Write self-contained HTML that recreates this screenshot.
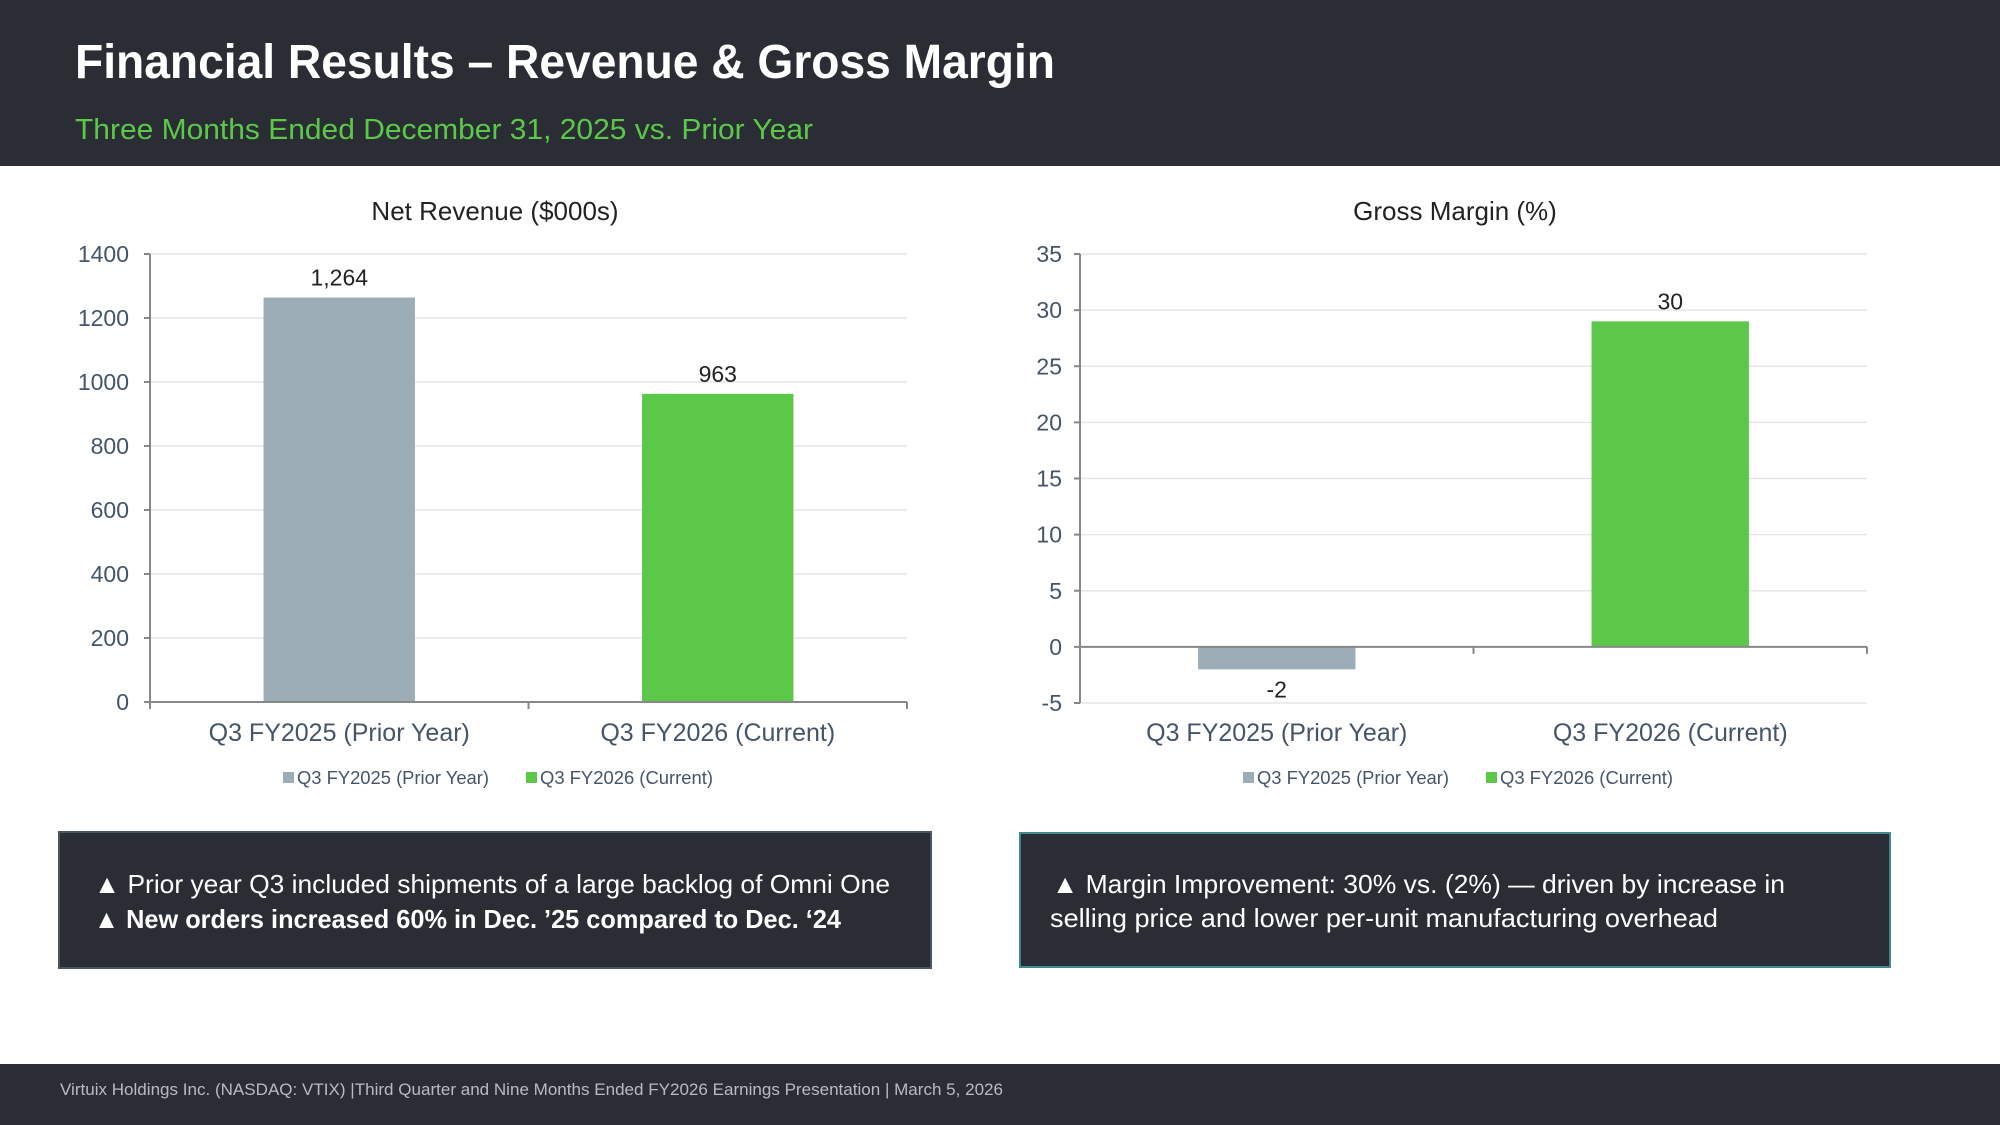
<!DOCTYPE html>
<html><head><meta charset="utf-8"><style>
html,body{margin:0;padding:0;background:#fff;}
svg{display:block;}
text{font-family:"Liberation Sans",sans-serif;}
.cal{font-family:"Liberation Sans Narrow","Liberation Sans",sans-serif;}
</style></head><body>
<svg id="slide" width="2000" height="1125" viewBox="0 0 2000 1125" xmlns="http://www.w3.org/2000/svg">
<rect x="0" y="0" width="2000" height="166" fill="#2a2d33"/>
<text x="75" y="78" font-size="48" font-weight="bold" fill="#fff" textLength="980" lengthAdjust="spacingAndGlyphs" class="cal">Financial Results – Revenue &amp; Gross Margin</text>
<text x="75" y="139" font-size="29" fill="#5cc84a" textLength="738" lengthAdjust="spacingAndGlyphs" class="cal">Three Months Ended December 31, 2025 vs. Prior Year</text>

<g id="rev"></g>
<g id="gm"></g>

<rect x="59" y="832" width="872" height="136" fill="#2a2d33" stroke="#4a5560" stroke-width="2"/>
<text x="94" y="893" font-size="26" fill="#fff" textLength="796" lengthAdjust="spacingAndGlyphs" class="cal">▲ Prior year Q3 included shipments of a large backlog of Omni One</text>
<text x="94" y="928" font-size="26" font-weight="bold" fill="#fff" textLength="747" lengthAdjust="spacingAndGlyphs" class="cal">▲ New orders increased 60% in Dec. ’25 compared to Dec. ‘24</text>

<rect x="1020" y="833" width="870" height="134" fill="#2a2d33" stroke="#3f8a8f" stroke-width="2"/>
<text x="1052" y="893" font-size="26" fill="#fff" textLength="733" lengthAdjust="spacingAndGlyphs" class="cal">▲ Margin Improvement: 30% vs. (2%) — driven by increase in</text>
<text x="1050" y="927" font-size="26" fill="#fff" textLength="668" lengthAdjust="spacingAndGlyphs" class="cal">selling price and lower per-unit manufacturing overhead</text>

<rect x="0" y="1064" width="2000" height="61" fill="#2a2d33"/>
<text x="60" y="1095" font-size="17" fill="#b8bcc2" textLength="943" lengthAdjust="spacingAndGlyphs" class="cal">Virtuix Holdings Inc. (NASDAQ: VTIX) |Third Quarter and  Nine Months Ended FY2026 Earnings Presentation | March 5, 2026</text>
</svg>
<script>
const categories = ["Q3 FY2025 (Prior Year)", "Q3 FY2026 (Current)"];
const revenueValues = [1264, 963];
const revenueLabels = ["1,264", "963"];
const revenueTicks = [0, 200, 400, 600, 800, 1000, 1200, 1400];
const marginValues = [-2, 29];
const marginLabels = ["-2", "30"];
const marginTicks = [-5, 0, 5, 10, 15, 20, 25, 30, 35];
const seriesColors = ["#9dadb8", "#5cc84a"];

const NS = "http://www.w3.org/2000/svg";
function mk(parent, tag, attrs, txt) {
  const e = document.createElementNS(NS, tag);
  for (const k in attrs) e.setAttribute(k, attrs[k]);
  if (txt !== undefined) e.textContent = txt;
  parent.appendChild(e);
  return e;
}

function drawChart(g, cfg) {
  const {x0, x1, yTop, yBot, min, max, ticks, values, labels, title, titleX, labelRight, prefix} = cfg;
  const y = v => yBot - (v - min) / (max - min) * (yBot - yTop);
  const band = (x1 - x0) / categories.length;
  const cx = i => x0 + band * (i + 0.5);
  const bw = band * 0.4;
  let t = mk(g, "text", {x: titleX, y: 220, "font-size": 26, fill: "#222", "text-anchor": "middle"}, title);
  
  
  ticks.forEach(v => {
    if (v !== 0 || min === 0) {
      const gl = mk(g, "line", {x1: x0, x2: x1, y1: y(v), y2: y(v), stroke: "#e3e6ea", "stroke-width": 1.5});
      
      
    }
    const tk = mk(g, "line", {x1: x0 - 6, x2: x0, y1: y(v), y2: y(v), stroke: "#888", "stroke-width": 2});
    
    
    const tl = mk(g, "text", {x: labelRight, y: y(v) + 8, "font-size": 23, fill: "#44546a", "text-anchor": "end"}, String(v));
    
    
  });
  values.forEach((v, i) => {
    const top = Math.min(y(v), y(0)), h = Math.abs(y(v) - y(0));
    const b = mk(g, "rect", {x: cx(i) - bw / 2, y: top, width: bw, height: h, fill: seriesColors[i]});
    
    
    const ly = v >= 0 ? y(v) - 12 : y(v) + 28;
    const l = mk(g, "text", {x: cx(i), y: ly, "font-size": 23, fill: "#222", "text-anchor": "middle"}, labels[i]);
    
    
    const c = mk(g, "text", {x: cx(i), y: 741, "font-size": 25, fill: "#44546a", "text-anchor": "middle"}, categories[i]);
    
    
  });
  const ya = mk(g, "line", {x1: x0, x2: x0, y1: yTop, y2: yBot, stroke: "#888", "stroke-width": 2});
  
  
  const xa = mk(g, "line", {x1: x0, x2: x1, y1: y(0), y2: y(0), stroke: "#888", "stroke-width": 2});
  
  
  for (let i = 0; i <= categories.length; i++) {
    const xt = mk(g, "line", {x1: x0 + band * i, x2: x0 + band * i, y1: y(0), y2: y(0) + 7, stroke: "#888", "stroke-width": 2});
    
    
  }
  // legend
  const lx = [cfg.legendX, cfg.legendX + 243];
  categories.forEach((c, i) => {
    const sw = mk(g, "rect", {x: lx[i], y: 772, width: 11, height: 11, fill: seriesColors[i]});
    
    
    const lt = mk(g, "text", {x: lx[i] + 14, y: 784, "font-size": 18, fill: "#44546a", textLength: i === 0 ? 192 : 173, lengthAdjust: "spacingAndGlyphs", class: "cal"}, c);
    
    
  });
}

drawChart(document.getElementById("rev"), {x0: 150, x1: 907, yTop: 254, yBot: 702, min: 0, max: 1400,
  ticks: revenueTicks, values: revenueValues, labels: revenueLabels, title: "Net Revenue ($000s)",
  titleX: 495, labelRight: 129, prefix: "revenue", legendX: 283});
drawChart(document.getElementById("gm"), {x0: 1080, x1: 1867, yTop: 254, yBot: 703, min: -5, max: 35,
  ticks: marginTicks, values: marginValues, labels: marginLabels, title: "Gross Margin (%)",
  titleX: 1455, labelRight: 1062, prefix: "margin", legendX: 1243});
</script>
</body></html>
